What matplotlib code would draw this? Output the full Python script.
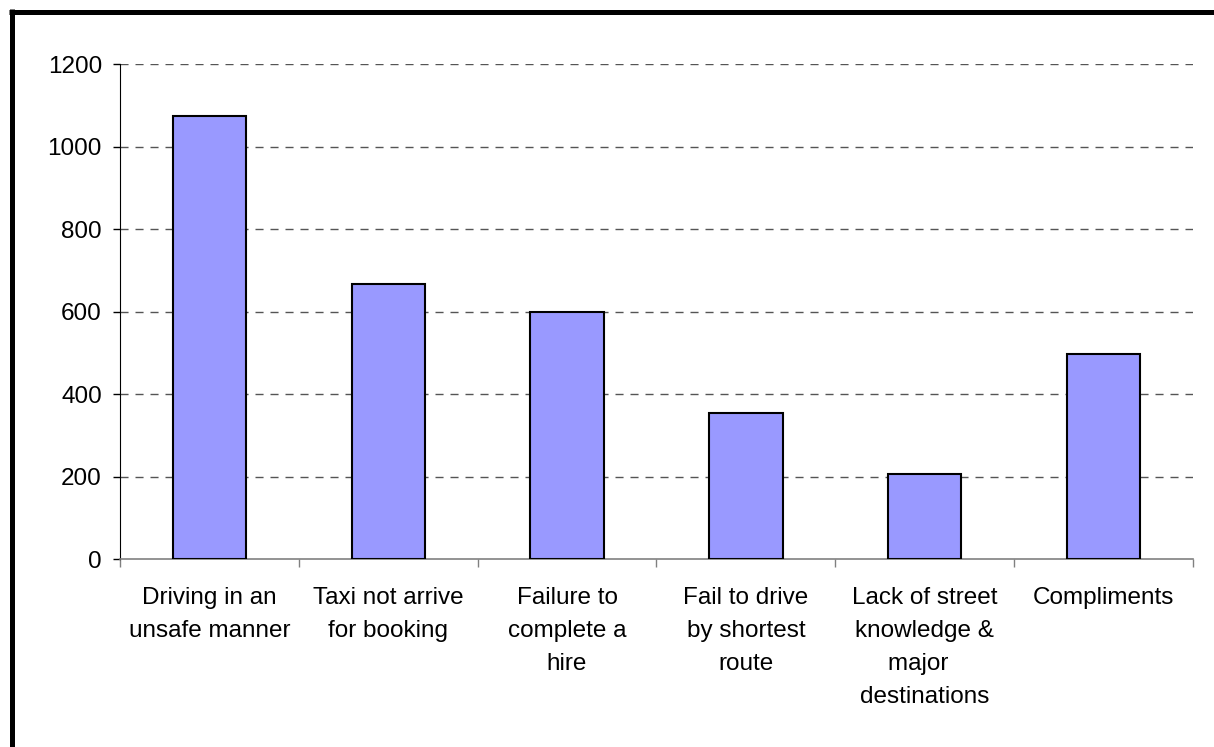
import matplotlib.pyplot as plt
from matplotlib.lines import Line2D
import numpy as np

# Data
categories = ["Driving in an\nunsafe manner", "Taxi not arrive\nfor booking",
              "Failure to\ncomplete a\nhire", "Fail to drive\nby shortest\nroute",
              "Lack of street\nknowledge &\nmajor  \ndestinations", "Compliments"]
counts = [1076, 667, 600, 355, 208, 497]
yticks = [0, 200, 400, 600, 800, 1000, 1200]

plt.rcParams['font.family'] = ['Liberation Sans', 'DejaVu Sans']

fig = plt.figure(figsize=(12.14, 7.47), dpi=100)
ax = fig.add_axes([0.0988, 0.2513, 0.8839, 0.6624])

x = np.arange(len(categories))
ax.bar(x, counts, width=0.41, color='#9999FF', edgecolor='black', linewidth=1.5, zorder=3)

ax.set_xlim(-0.5, len(categories) - 0.5)
ax.set_ylim(0, 1200)
ax.set_yticks(yticks)
ax.set_yticklabels([str(v) for v in yticks], fontsize=17.5)
ax.tick_params(axis='y', direction='out', length=5, width=1, pad=8)

ax.set_xticks(x)
ax.set_xticklabels(categories, fontsize=17.5, linespacing=1.65, va='top')
ax.tick_params(axis='x', which='major', length=0, pad=20)
ax.set_xticks(np.arange(-0.5, len(categories)), minor=True)
ax.tick_params(axis='x', which='minor', direction='out', length=6, width=1, color='#808080')

for v in yticks[1:]:
    ax.axhline(v, color='#555555', linewidth=1, linestyle=(0, (5.8, 5)), zorder=1)

ax.spines['top'].set_visible(False)
ax.spines['right'].set_visible(False)
ax.spines['left'].set_color('black')
ax.spines['bottom'].set_color('#808080')
ax.spines['bottom'].set_linewidth(1.2)

# frame around the chart area (top and left edges)
fig.add_artist(Line2D([9 / 1214, 1], [1 - 11.5 / 747, 1 - 11.5 / 747],
                      transform=fig.transFigure, color='black', linewidth=3.6, solid_capstyle='butt'))
fig.add_artist(Line2D([11.5 / 1214, 11.5 / 1214], [0, 1 - 9 / 747],
                      transform=fig.transFigure, color='black', linewidth=3.6, solid_capstyle='butt'))

fig.savefig('out.png', dpi=100)
